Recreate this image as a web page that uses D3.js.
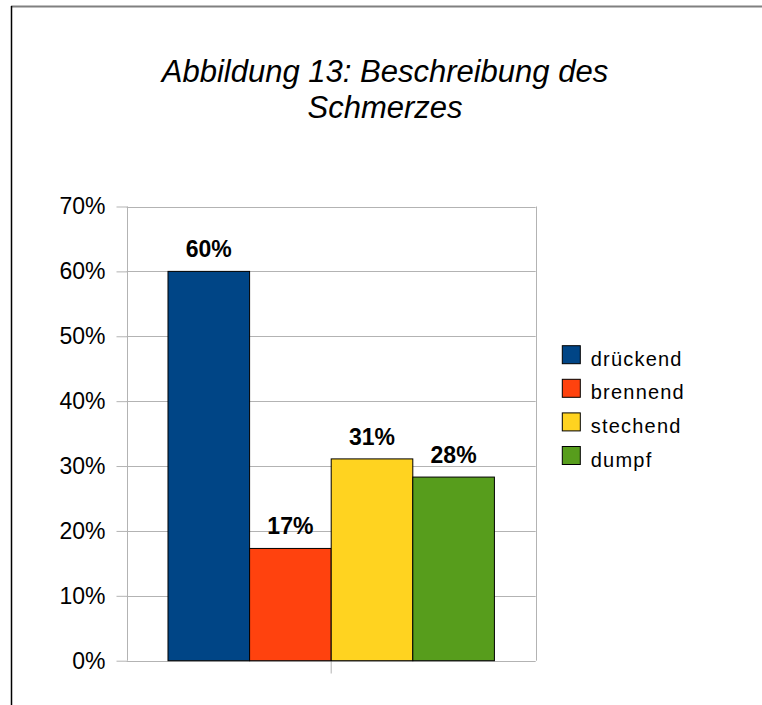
<meta charset="utf-8">
<script src="https://d3js.org/d3.v7.min.js"></script>

<style>
  body { margin: 0; background: #fff; }
  text { font-family: "Liberation Sans", Arial, sans-serif; }
</style>

<body>
  <svg id='svg'></svg>
</body>

<script>
  let width = 762;
  let height = 705;

  // data
  let categories = ['Beschreibung'];
  let series = ['drückend', 'brennend', 'stechend', 'dumpf'];
  let values = [0.600, 0.173, 0.311, 0.283];
  let colors = ['#004586', '#ff420e', '#ffd320', '#579d1c'];
  let yTicks = [0, 0.1, 0.2, 0.3, 0.4, 0.5, 0.6, 0.7];
  let titleLines = ['Abbildung 13: Beschreibung des', 'Schmerzes'];

  let svg = d3.select('#svg')
    .attr('width', width)
    .attr('height', height);

  // frame
  svg.append('line')
    .attr('x1', 11).attr('x2', width).attr('y1', 6.5).attr('y2', 6.5)
    .attr('stroke', '#808080').attr('stroke-width', 2);
  svg.append('line')
    .attr('x1', 11.5).attr('x2', 11.5).attr('y1', 6).attr('y2', height)
    .attr('stroke', '#000').attr('stroke-width', 1.5);

  // title
  svg.append('text')
    .attr('text-anchor', 'middle')
    .attr('font-size', '31px')
    .attr('font-style', 'italic')
    .selectAll('tspan')
    .data(titleLines)
    .enter()
    .append('tspan')
    .attr('x', 385)
    .attr('y', (d, i) => 81.5 + i * 36.6)
    .text(d => d);

  let plotLeft = 126.7, plotRight = 535.7;
  let plotTop = 206.5, plotBottom = 660.7;

  let y = d3.scaleLinear()
    .domain([0, 0.7])
    .range([plotBottom, plotTop]);

  let x = d3.scaleBand()
    .domain(categories)
    .range([plotLeft, plotRight])
    .paddingInner(0)
    .paddingOuter(0.1265);

  let xs = d3.scaleBand()
    .domain(series)
    .range([0, x.bandwidth()])
    .padding(0);

  // grid lines
  svg.append('g')
    .selectAll('line')
    .data(yTicks)
    .enter()
    .append('line')
    .attr('x1', plotLeft).attr('x2', plotRight)
    .attr('y1', d => Math.round(y(d)) + 0.5)
    .attr('y2', d => Math.round(y(d)) + 0.5)
    .attr('stroke', '#b3b3b3');

  // plot area sides
  [plotLeft, plotRight].forEach(px => {
    svg.append('line')
      .attr('x1', Math.round(px) + 0.5).attr('x2', Math.round(px) + 0.5)
      .attr('y1', plotTop).attr('y2', plotBottom)
      .attr('stroke', '#b3b3b3');
  });

  // y axis
  let yAxis = svg.append('g')
    .attr('transform', `translate(${Math.round(plotLeft) + 0.5},0)`)
    .call(d3.axisLeft(y)
      .tickValues(yTicks)
      .tickSize(11)
      .tickPadding(11)
      .tickFormat(d3.format('.0%')));
  yAxis.select('.domain').remove();
  yAxis.selectAll('.tick line').attr('stroke', '#b3b3b3');
  yAxis.selectAll('.tick text')
    .attr('font-size', '23px')
    .attr('font-family', '"Liberation Sans", Arial, sans-serif')
    .attr('fill', '#000');

  // x axis (category tick only, no label)
  let xAxis = svg.append('g')
    .attr('transform', `translate(0,${Math.round(plotBottom) + 0.5})`)
    .call(d3.axisBottom(x).tickSize(12).tickFormat(''));
  xAxis.select('.domain').remove();
  xAxis.selectAll('.tick line').attr('stroke', '#b3b3b3');

  // bars
  let group = svg.append('g')
    .attr('transform', `translate(${x(categories[0])},0)`);

  group.selectAll('rect')
    .data(values)
    .enter()
    .append('rect')
    .attr('x', (d, i) => xs(series[i]))
    .attr('y', d => y(d))
    .attr('width', xs.bandwidth())
    .attr('height', d => y(0) - y(d))
    .attr('fill', (d, i) => colors[i])
    .attr('stroke', '#000')
    .attr('stroke-width', 1);

  group.selectAll('.val')
    .data(values)
    .enter()
    .append('text')
    .attr('class', 'val')
    .attr('x', (d, i) => xs(series[i]) + xs.bandwidth() / 2)
    .attr('y', d => y(d) - 14)
    .attr('text-anchor', 'middle')
    .attr('font-size', '23px')
    .attr('font-weight', 'bold')
    .text(d => d3.format('.0%')(d));

  // legend
  let legend = svg.append('g')
    .attr('transform', 'translate(562.3,345.7)');

  let items = legend.selectAll('g')
    .data(series)
    .enter()
    .append('g')
    .attr('transform', (d, i) => `translate(0,${i * 33.6})`);

  items.append('rect')
    .attr('width', 18)
    .attr('height', 18)
    .attr('fill', (d, i) => colors[i])
    .attr('stroke', '#000')
    .attr('stroke-width', 1);

  items.append('text')
    .attr('x', 28.5)
    .attr('y', 20)
    .attr('font-size', '20px')
    .attr('letter-spacing', '1.2px')
    .text(d => d);
</script>
